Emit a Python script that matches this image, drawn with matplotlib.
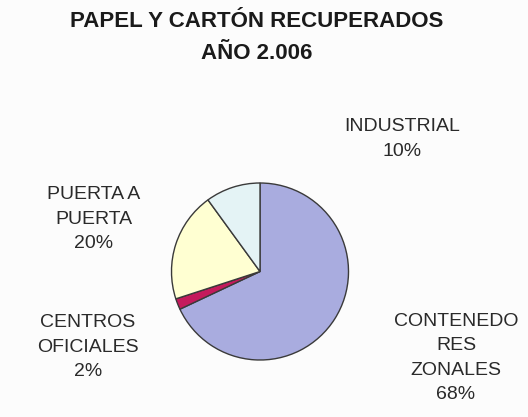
import matplotlib
matplotlib.use('Agg')
import matplotlib.pyplot as plt

# data
labels = ['CONTENEDO\nRES\nZONALES', 'CENTROS\nOFICIALES', 'PUERTA A\nPUERTA', 'INDUSTRIAL']
values = [68, 2, 20, 10]
colors = ['#A9ACDF', '#C41A5C', '#FFFFD2', '#E4F3F5']
title = 'PAPEL Y CARTÓN RECUPERADOS\nAÑO 2.006'

# label centres in pixel coords (x, y from top)
label_pos = [(456, 358), (88, 347), (94, 219), (402, 139)]

W, H = 528, 417
fig = plt.figure(figsize=(W / 100, H / 100), dpi=100)
fig.patch.set_facecolor('#FCFCFC')
ax = fig.add_axes([0, 0, 1, 1])

ax.pie(values, colors=colors, startangle=90, counterclock=False,
       center=(260, H - 271.5), radius=88.5,
       wedgeprops=dict(edgecolor='#3a3a3a', linewidth=1.0),
       frame=True)
ax.set_xlim(0, W)
ax.set_ylim(0, H)
ax.set_aspect('equal')
ax.axis('off')

for lab, v, (x, y) in zip(labels, values, label_pos):
    ax.text(x, H - y, '%s\n%d%%' % (lab, v), ha='center', va='center',
            multialignment='center', fontsize=14, family='Liberation Sans',
            color='#2a2a2a', linespacing=1.58)

ax.text(257, H - 37.5, title, ha='center', va='center', multialignment='center',
        fontsize=16, fontweight='bold', family='Liberation Sans',
        color='#1a1a1a', linespacing=1.64)

fig.savefig('out.png', dpi=100, facecolor=fig.get_facecolor())
